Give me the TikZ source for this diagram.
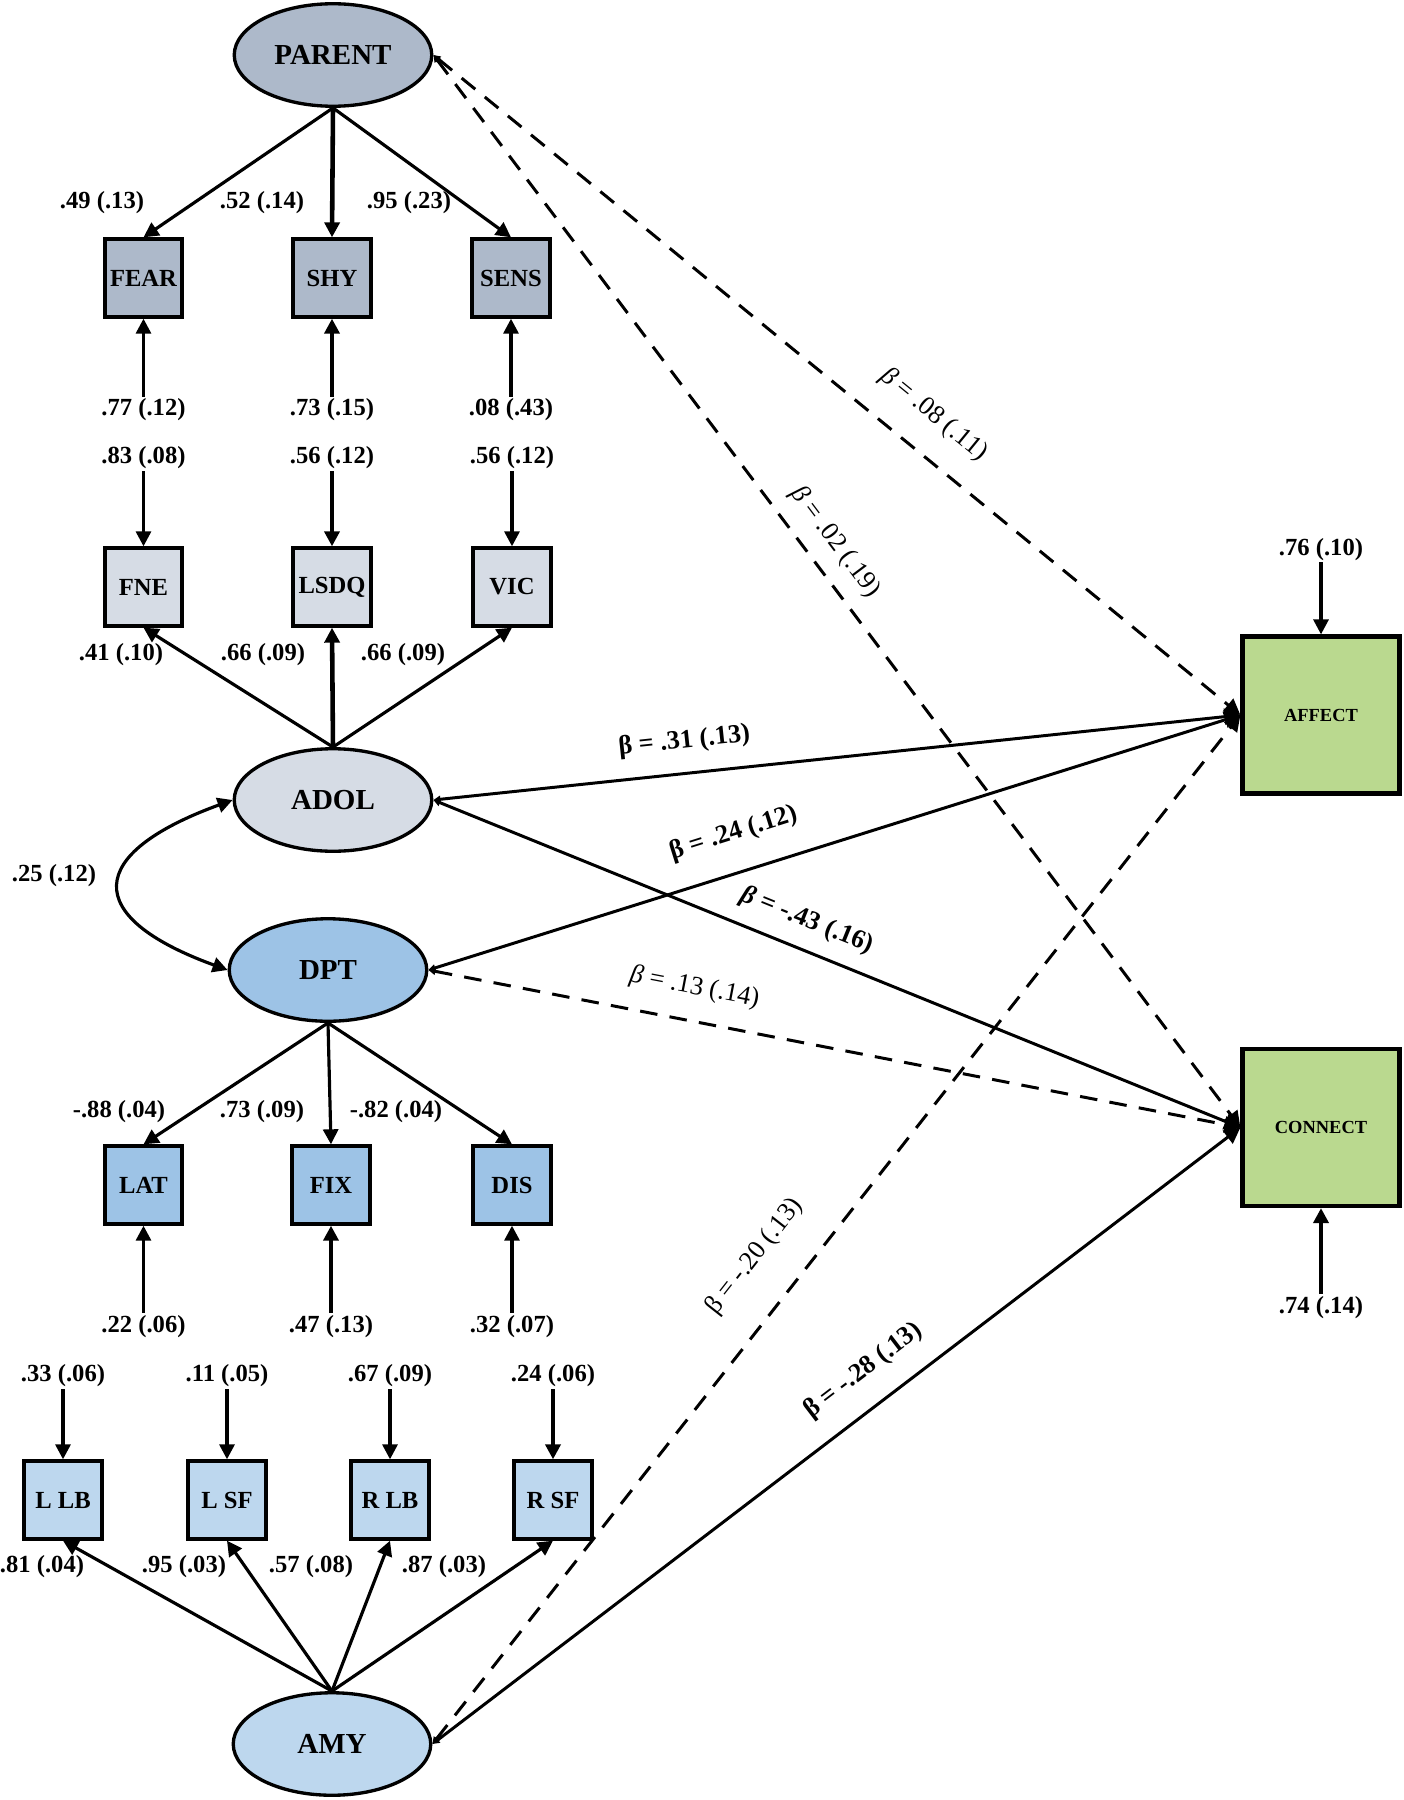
\documentclass[tikz,border=0pt]{standalone}
\usepackage{fontspec}
\setmainfont{Liberation Serif}
\usepackage{xcolor}
\usepackage{tikz}
\usetikzlibrary{shapes.geometric, arrows.meta, positioning}

\definecolor{parentfill}{HTML}{ADB9CA}
\definecolor{adolfill}{HTML}{D6DCE5}
\definecolor{dptfill}{HTML}{9DC3E6}
\definecolor{amyfill}{HTML}{BDD7EE}
\definecolor{outfill}{HTML}{BAD98F}

\begin{document}
\begin{tikzpicture}[
    latent/.style={draw, ellipse, line width=1.9pt, minimum width=3.95cm, minimum height=2.05cm, inner sep=0pt, font=\fontsize{16.5}{18}\selectfont\bfseries},
    box/.style={draw, rectangle, line width=2.2pt, minimum width=1.55cm, minimum height=1.55cm, inner sep=0pt, font=\fontsize{14}{16}\selectfont\bfseries},
    outbox/.style={draw, rectangle, line width=2.4pt, minimum width=3.14cm, minimum height=3.14cm, fill=outfill, font=\fontsize{10.5}{12}\selectfont\bfseries},
    lbl/.style={inner sep=1pt, font=\fontsize{14}{16}\selectfont\bfseries},
    blbl/.style={sloped, inner sep=3pt, font=\fontsize{15}{17}\selectfont},
    arrow/.style={line width=1.8pt, -{Triangle[length=0.3cm, width=0.3cm]}},
    thickarrow/.style={arrow, line width=2.6pt},
    effect/.style={line width=1.7pt, {Triangle[length=0.14cm, width=0.14cm]}-{Triangle[length=0.32cm, width=0.32cm]}},
    nseffect/.style={effect, dash pattern=on 10pt off 7pt}
]
\useasboundingbox (0,0) rectangle (28.06,-36);

% latent variables
\node[latent, fill=parentfill] (parent) at (6.66,-1.10) {PARENT};
\node[latent, fill=adolfill] (adol) at (6.66,-16.00) {ADOL};
\node[latent, fill=dptfill] (dpt) at (6.56,-19.40) {DPT};
\node[latent, fill=amyfill] (amy) at (6.64,-34.88) {AMY};

% indicators
\node[box, fill=parentfill] (fear) at (2.87,-5.56) {FEAR};
\node[box, fill=parentfill] (shy) at (6.64,-5.56) {SHY};
\node[box, fill=parentfill] (sens) at (10.22,-5.56) {SENS};
\node[box, fill=adolfill] (fne) at (2.87,-11.74) {FNE};
\node[box, fill=adolfill] (lsdq) at (6.64,-11.74) {LSDQ};
\node[box, fill=adolfill] (vic) at (10.24,-11.74) {VIC};
\node[box, fill=dptfill] (lat) at (2.87,-23.70) {LAT};
\node[box, fill=dptfill] (fix) at (6.62,-23.70) {FIX};
\node[box, fill=dptfill] (dis) at (10.24,-23.70) {DIS};
\node[box, fill=amyfill] (llb) at (1.26,-30.00) {L LB};
\node[box, fill=amyfill] (lsf) at (4.54,-30.00) {L SF};
\node[box, fill=amyfill] (rlb) at (7.80,-30.00) {R LB};
\node[box, fill=amyfill] (rsf) at (11.06,-30.00) {R SF};

% outcomes
\node[outbox] (affect) at (26.42,-14.30) {AFFECT};
\node[outbox] (connect) at (26.42,-22.55) {CONNECT};

% error variances
\node[lbl, below=1.56cm of fear] (efear) {.77 (.12)};
\node[lbl, below=1.56cm of shy] (eshy) {.73 (.15)};
\node[lbl, below=1.56cm of sens] (esens) {.08 (.43)};
\node[lbl, above=1.5cm of fne] (efne) {.83 (.08)};
\node[lbl, above=1.5cm of lsdq] (elsdq) {.56 (.12)};
\node[lbl, above=1.5cm of vic] (evic) {.56 (.12)};
\node[lbl, below=1.75cm of lat] (elat) {.22 (.06)};
\node[lbl, below=1.75cm of fix] (efix) {.47 (.13)};
\node[lbl, below=1.75cm of dis] (edis) {.32 (.07)};
\node[lbl, above=1.4cm of llb] (ellb) {.33 (.06)};
\node[lbl, above=1.4cm of lsf] (elsf) {.11 (.05)};
\node[lbl, above=1.4cm of rlb] (erlb) {.67 (.09)};
\node[lbl, above=1.4cm of rsf] (ersf) {.24 (.06)};
\node[lbl, above=1.44cm of affect] (eaffect) {.76 (.10)};
\node[lbl, below=1.72cm of connect] (econnect) {.74 (.14)};

\draw[arrow] (efear.north) -- (fear.south);
\draw[thickarrow] (eshy.north) -- (shy.south);
\draw[arrow] (esens.north) -- (sens.south);
\draw[arrow] (efne.south) -- (fne.north);
\draw[thickarrow] (elsdq.south) -- (lsdq.north);
\draw[arrow] (evic.south) -- (vic.north);
\draw[arrow] (elat.north) -- (lat.south);
\draw[thickarrow] (efix.north) -- (fix.south);
\draw[arrow] (edis.north) -- (dis.south);
\draw[arrow] (ellb.south) -- (llb.north);
\draw[arrow] (elsf.south) -- (lsf.north);
\draw[arrow] (erlb.south) -- (rlb.north);
\draw[thickarrow] (ersf.south) -- (rsf.north);
\draw[arrow] (eaffect.south) -- (affect.north);
\draw[thickarrow] (econnect.north) -- (connect.south);

% loadings
\draw[arrow] (parent.south) -- (fear.north);
\draw[thickarrow] (parent.south) -- (shy.north);
\draw[arrow] (parent.south) -- (sens.north);
\draw[arrow] (adol.north) -- (fne.south);
\draw[thickarrow] (adol.north) -- (lsdq.south);
\draw[arrow] (adol.north) -- (vic.south);
\draw[arrow] (dpt.south) -- (lat.north);
\draw[arrow] (dpt.south) -- (fix.north);
\draw[arrow] (dpt.south) -- (dis.north);
\draw[arrow] (amy.north) -- (llb.south);
\draw[arrow] (amy.north) -- (lsf.south);
\draw[arrow] (amy.north) -- (rlb.south);
\draw[arrow] (amy.north) -- (rsf.south);

\node[lbl] (l1) at (2.04,-4.06) {.49 (.13)};
\node[lbl] (l2) at (5.24,-4.06) {.52 (.14)};
\node[lbl] (l3) at (8.18,-4.06) {.95 (.23)};
\node[lbl] (l4) at (2.42,-13.10) {.41 (.10)};
\node[lbl] (l5) at (5.26,-13.10) {.66 (.09)};
\node[lbl] (l6) at (8.06,-13.10) {.66 (.09)};
\node[lbl] (l7) at (2.38,-22.24) {-.88 (.04)};
\node[lbl] (l8) at (5.24,-22.24) {.73 (.09)};
\node[lbl] (l9) at (7.92,-22.24) {-.82 (.04)};
\node[lbl] (l10) at (0.84,-31.34) {.81 (.04)};
\node[lbl] (l11) at (3.68,-31.34) {.95 (.03)};
\node[lbl] (l12) at (6.22,-31.34) {.57 (.08)};
\node[lbl] (l13) at (8.88,-31.34) {.87 (.03)};

% covariance
\draw[line width=1.8pt, {Triangle[length=0.3cm, width=0.3cm]}-{Triangle[length=0.3cm, width=0.3cm]}]
    (adol.west) to[out=200, in=160, looseness=2.35] (dpt.west);
\node[lbl] (cov) at (1.08,-17.52) {.25 (.12)};

% structural paths
\draw[nseffect] (parent.east) -- node[blbl, above=0.39cm, pos=0.59] {\textit{β} = .08 (.11)} (affect.west);
\draw[nseffect] (parent.east) -- node[blbl, above=0.19cm, pos=0.47] {\textit{β} = .02 (.19)} (connect.west);
\draw[effect] (adol.east) -- node[blbl, above=0.26cm, pos=0.315] {\bfseries β = .31 (.13)} (affect.west);
\draw[effect] (dpt.east) -- node[blbl, above=0.4cm, pos=0.39] {\bfseries β = .24 (.12)} (affect.west);
\draw[effect] (adol.east) -- node[blbl, above=0.2cm, pos=0.45] {\bfseries\textit{β} = -.43 (.16)} (connect.west);
\draw[nseffect] (dpt.east) -- node[blbl, above=0.29cm, pos=0.32] {\textit{β} = .13 (.14)} (connect.west);
\draw[nseffect] (amy.east) -- node[blbl, above=0.58cm, pos=0.445] {β = -.20 (.13)} (affect.west);
\draw[effect] (amy.east) -- node[blbl, above=0.33cm, pos=0.56] {\bfseries β = -.28 (.13)} (connect.west);

\end{tikzpicture}
\end{document}
